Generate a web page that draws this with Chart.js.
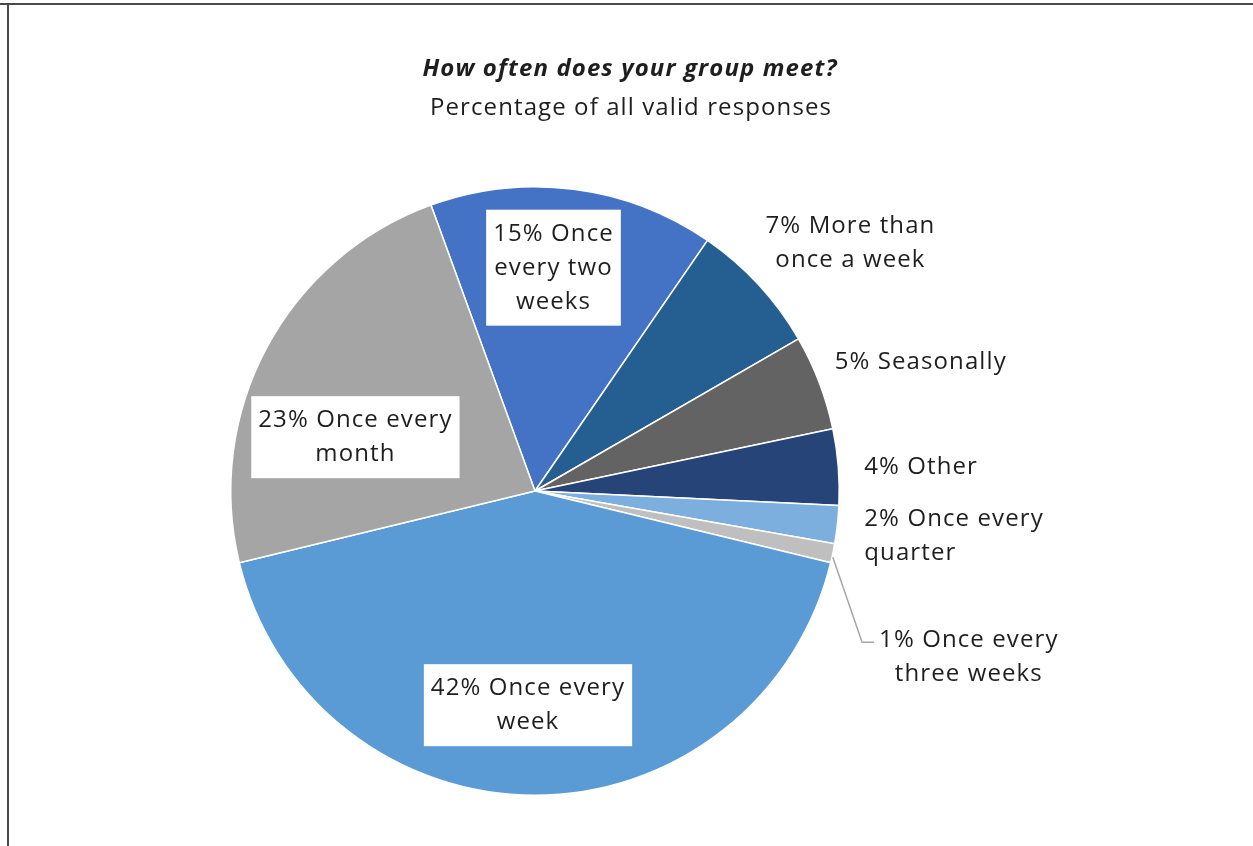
<!DOCTYPE html>
<html>
<head>
<meta charset="utf-8">
<script src="https://cdn.jsdelivr.net/npm/chart.js@4.4.1/dist/chart.umd.min.js"></script>
<style>
  html, body { margin: 0; padding: 0; background: #ffffff; }
  canvas { display: block; }
</style>
</head>
<body>
<canvas id="chart" width="1253" height="846"></canvas>
<script>
// Survey answers, in clockwise order starting just left of 12 o'clock
const categories = [
  'Once every two weeks',
  'More than once a week',
  'Seasonally',
  'Other',
  'Once every quarter',
  'Once every three weeks',
  'Once every week',
  'Once every month'
];
const percentages = [15, 7, 5, 4, 2, 1, 42, 23];
const sliceColors = ['#4472C4', '#255E91', '#636363', '#264478', '#7CAFDD', '#BFBFBF', '#5B9BD5', '#A5A5A5'];
const chartTitle = 'How often does your group meet?';
const chartSubtitle = 'Percentage of all valid responses';

// How many words go on each line of a slice label ("15%" counts as a word)
const wordsPerLine = [[2, 2, 1], [3, 3], [2], [2], [3, 1], [3, 2], [3, 1], [3, 1]];

// Label placement: distance along the slice's mid-angle (fraction of radius) plus a small nudge
const labelPlacement = [
  { r: 0.74,  dx: -10, dy: 0,  box: true },
  { r: 1.322, dx: 20,  dy: 25 },
  { r: 1.336, dx: 6,   dy: 16 },
  { r: 1.273, dx: 0,   dy: 7 },
  { r: 1.089, dx: 0,   dy: 8, align: 'left' },
  { r: 1.45,  dx: 2,   dy: 76, leader: true },
  { r: 0.704, dx: -7,  dy: 0,  box: true },
  { r: 0.625, dx: -12, dy: 36, box: true }
];

const FONT_FAMILY = '"Open Sans", "Noto Sans", sans-serif';
const TEXT_COLOR = '#1e1e1e';
const FONT_SIZE = 24;
const LINE_HEIGHT = 34;

function setFont(ctx, weight, style, size) {
  ctx.font = `${style} ${weight} ${size}px ${FONT_FAMILY}`;
  if ('letterSpacing' in ctx) ctx.letterSpacing = '1.1px';
}

function labelLines(i) {
  const words = (percentages[i] + '% ' + categories[i]).split(' ');
  const lines = [];
  let k = 0;
  for (const n of wordsPerLine[i]) {
    lines.push(words.slice(k, k + n).join(' '));
    k += n;
  }
  return lines;
}

// Outer frame along the top and left edges
const framePlugin = {
  id: 'frame',
  beforeDraw(chart) {
    const ctx = chart.ctx;
    ctx.save();
    ctx.fillStyle = '#ffffff';
    ctx.fillRect(0, 0, chart.width, chart.height);
    ctx.fillStyle = '#4a4a4a';
    ctx.fillRect(0, 3, chart.width, 2);
    ctx.fillRect(7, 3, 2, chart.height);
    ctx.restore();
  }
};

// Title and subtitle above the pie
const headingPlugin = {
  id: 'heading',
  afterDraw(chart) {
    const ctx = chart.ctx;
    ctx.save();
    ctx.fillStyle = TEXT_COLOR;
    ctx.textAlign = 'center';
    ctx.textBaseline = 'middle';
    setFont(ctx, 'bold', 'italic', FONT_SIZE);
    ctx.fillText(chartTitle, 630, 69);
    setFont(ctx, 'normal', 'normal', FONT_SIZE);
    ctx.fillText(chartSubtitle, 631, 108);
    ctx.restore();
  }
};

// Slice labels, positioned from each arc's geometry
const sliceLabelPlugin = {
  id: 'sliceLabels',
  afterDatasetsDraw(chart) {
    const ctx = chart.ctx;
    const meta = chart.getDatasetMeta(0);
    ctx.save();
    setFont(ctx, 'normal', 'normal', FONT_SIZE);
    meta.data.forEach((arc, i) => {
      const p = arc.getProps(['x', 'y', 'startAngle', 'endAngle', 'outerRadius'], true);
      const mid = (p.startAngle + p.endAngle) / 2;
      const place = labelPlacement[i];
      const ax = p.x + Math.cos(mid) * p.outerRadius * place.r + place.dx;
      const ay = p.y + Math.sin(mid) * p.outerRadius * place.r + place.dy;
      const lines = labelLines(i);
      const widths = lines.map(t => ctx.measureText(t).width);
      const maxW = Math.max(...widths);
      const blockH = lines.length * LINE_HEIGHT;
      const left = place.align === 'left' ? ax : ax - maxW / 2;
      const top = ay - blockH / 2;

      if (place.box) {
        const padX = 7, padY = 7;
        ctx.fillStyle = '#ffffff';
        ctx.fillRect(left - padX, top - padY, maxW + padX * 2, blockH + padY * 2);
      }
      if (place.leader) {
        const sx = p.x + Math.cos(mid) * p.outerRadius;
        const sy = p.y + Math.sin(mid) * p.outerRadius + 4;
        const ey = top + LINE_HEIGHT / 2 + 2;
        const ex = left - 5;
        ctx.strokeStyle = '#a6a6a6';
        ctx.lineWidth = 1.5;
        ctx.beginPath();
        ctx.moveTo(sx, sy);
        ctx.lineTo(ex - 12, ey);
        ctx.lineTo(ex, ey);
        ctx.stroke();
      }
      ctx.fillStyle = TEXT_COLOR;
      ctx.textBaseline = 'middle';
      lines.forEach((t, j) => {
        const y = top + LINE_HEIGHT * (j + 0.5);
        if (place.align === 'left') {
          ctx.textAlign = 'left';
          ctx.fillText(t, left, y);
        } else {
          ctx.textAlign = 'center';
          ctx.fillText(t, ax, y);
        }
      });
    });
    ctx.restore();
  }
};

new Chart(document.getElementById('chart'), {
  type: 'pie',
  data: {
    labels: categories,
    datasets: [{
      data: percentages,
      backgroundColor: sliceColors,
      borderColor: '#ffffff',
      borderWidth: 1.5
    }]
  },
  options: {
    responsive: false,
    animation: false,
    rotation: -20,
    layout: { padding: { left: 230, right: 413, top: 186, bottom: 50 } },
    plugins: {
      legend: { display: false },
      tooltip: { enabled: false },
      title: { display: false }
    }
  },
  plugins: [framePlugin, headingPlugin, sliceLabelPlugin]
});
</script>
</body>
</html>
